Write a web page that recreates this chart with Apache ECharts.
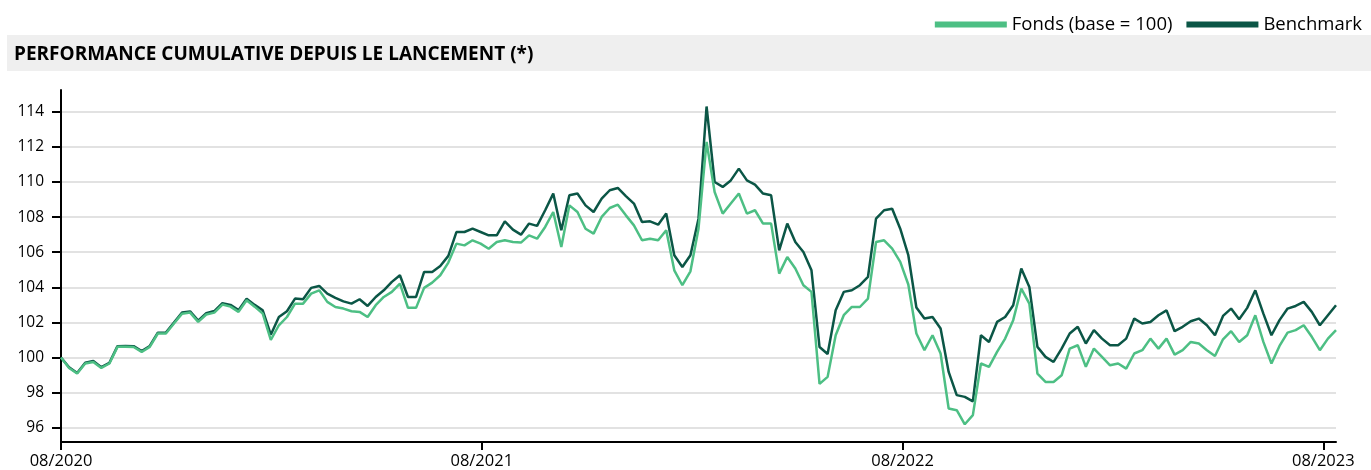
<!DOCTYPE html>
<html>
<head>
<meta charset="utf-8">
<script src="https://cdn.jsdelivr.net/npm/echarts@6/dist/echarts.min.js"></script>
<style>
html,body{margin:0;padding:0;background:#fff;}
#chart{width:1371px;height:470px;}
</style>
</head>
<body>
<div id="chart"></div>
<script>
// ---- Data (weekly readings, starting 2020-08-01) ----
var startDate = '2020-08-01';
var fonds = [
100.0, 99.41, 99.09, 99.66, 99.75, 99.41, 99.66, 100.61, 100.61, 100.6,
100.32, 100.61, 101.37, 101.37, 101.94, 102.5, 102.56, 102.03, 102.45, 102.56,
103.02, 102.9, 102.6, 103.26, 102.9, 102.5, 101.0, 101.84, 102.31, 103.07,
103.07, 103.64, 103.83, 103.17, 102.88, 102.79, 102.64, 102.6, 102.31, 102.98,
103.45, 103.74, 104.21, 102.83, 102.83, 103.97, 104.27, 104.69, 105.41, 106.49,
106.39, 106.68, 106.49, 106.2, 106.58, 106.68, 106.58, 106.55, 106.96, 106.77,
107.44, 108.29, 106.3, 108.67, 108.29, 107.34, 107.06, 108.01, 108.52, 108.71,
108.1, 107.53, 106.68, 106.77, 106.68, 107.25, 104.97, 104.12, 104.91, 107.34,
112.28, 109.43, 108.2, 108.77, 109.34, 108.2, 108.39, 107.63, 107.63, 104.78,
105.73, 105.07, 104.12, 103.74, 98.5, 98.9, 101.27, 102.41, 102.88, 102.88,
103.36, 106.58, 106.68, 106.2, 105.45, 104.16, 101.37, 100.42, 101.27, 100.23,
97.1, 97.0, 96.2, 96.72, 99.66, 99.47, 100.32, 101.08, 102.13, 103.93,
103.07, 99.09, 98.61, 98.61, 98.99, 100.51, 100.7, 99.47, 100.51, 100.04,
99.56, 99.66, 99.37, 100.23, 100.42, 101.08, 100.51, 101.08, 100.17, 100.42,
100.89, 100.8, 100.42, 100.09, 101.04, 101.5, 100.89, 101.27, 102.41, 100.89,
99.66, 100.66, 101.42, 101.56, 101.84, 101.18, 100.42, 101.08, 101.56
];
var benchmark = [
100.0, 99.45, 99.12, 99.7, 99.8, 99.45, 99.7, 100.65, 100.66, 100.65,
100.37, 100.66, 101.42, 101.43, 102.0, 102.57, 102.63, 102.1, 102.53, 102.65,
103.1, 103.0, 102.7, 103.35, 103.0, 102.69, 101.3, 102.31, 102.64, 103.36,
103.32, 103.97, 104.08, 103.64, 103.4, 103.2, 103.07, 103.32, 102.94, 103.45,
103.83, 104.31, 104.69, 103.45, 103.45, 104.88, 104.88, 105.22, 105.79, 107.15,
107.15, 107.34, 107.15, 106.96, 106.96, 107.76, 107.29, 107.0, 107.63, 107.5,
108.39, 109.34, 107.25, 109.24, 109.34, 108.67, 108.29, 109.05, 109.53, 109.66,
109.2, 108.77, 107.72, 107.76, 107.57, 108.2, 105.83, 105.16, 105.83, 107.91,
114.3, 110.0, 109.72, 110.09, 110.76, 110.09, 109.85, 109.34, 109.24, 106.11,
107.63, 106.58, 106.01, 104.97, 100.6, 100.2, 102.69, 103.74, 103.83, 104.12,
104.59, 107.91, 108.39, 108.48, 107.34, 105.83, 102.85, 102.22, 102.31, 101.65,
99.18, 97.86, 97.76, 97.5, 101.27, 100.89, 102.03, 102.31, 102.98, 105.07,
104.02, 100.61, 100.04, 99.75, 100.51, 101.37, 101.75, 100.8, 101.56, 101.08,
100.7, 100.7, 101.08, 102.22, 101.94, 102.03, 102.41, 102.69, 101.5, 101.75,
102.07, 102.22, 101.84, 101.27, 102.37, 102.79, 102.18, 102.83, 103.83, 102.5,
101.27, 102.13, 102.79, 102.94, 103.17, 102.6, 101.84, 102.41, 102.98
];
var xTickDates = ['2020-08-01', '2021-08-01', '2022-08-01', '2023-08-01'];
var yTicks = [96, 98, 100, 102, 104, 106, 108, 110, 112, 114];
var seriesNames = ['Fonds (base = 100)', 'Benchmark'];
var titleText = 'PERFORMANCE CUMULATIVE DEPUIS LE LANCEMENT (*)';

// weekly dates for the readings
var DAY = 86400000;
var t0 = Date.parse(startDate + 'T00:00:00Z');
var dates = fonds.map(function (_, i) { return t0 + i * 7 * DAY; });
function pairs(arr) { return arr.map(function (v, i) { return [dates[i], v]; }); }
var xTicks = xTickDates.map(function (d) { return Date.parse(d + 'T00:00:00Z'); });

var FONT = "'Open Sans', Lato, sans-serif";
var chart = echarts.init(document.getElementById('chart'), null, {renderer: 'canvas'});
chart.setOption({
  animation: false,
  backgroundColor: '#ffffff',
  graphic: [{
    type: 'rect', left: 7, top: 35, z: -10,
    shape: {width: 1364, height: 36},
    style: {fill: '#efefef'}
  }],
  title: {
    text: titleText, left: 9, top: 45, padding: [0, 5],
    textStyle: {fontFamily: FONT, fontWeight: 'bold', fontSize: 19, color: '#000'}
  },
  legend: {
    data: seriesNames, right: 4, top: 10, icon: 'rect',
    itemWidth: 72, itemHeight: 6, itemGap: 14,
    textStyle: {fontFamily: FONT, fontSize: 18.5, color: '#000'}
  },
  grid: {left: 61, right: 35, top: 90, bottom: 28, containLabel: false},
  xAxis: {
    type: 'value',
    min: t0, max: dates[dates.length - 1],
    axisLine: {show: true, lineStyle: {color: '#000', width: 2}},
    axisTick: {show: true, customValues: xTicks, length: 8, lineStyle: {color: '#000', width: 2}},
    axisLabel: {
      customValues: xTicks, fontFamily: FONT, fontSize: 16.5, color: '#000', margin: 11,
      formatter: function (v) {
        var d = new Date(v);
        var m = d.getUTCMonth() + 1;
        return (m < 10 ? '0' : '') + m + '/' + d.getUTCFullYear();
      }
    },
    splitLine: {show: false}
  },
  yAxis: {
    type: 'value', min: 95.19, max: 115.24,
    axisLine: {show: true, lineStyle: {color: '#000', width: 2}},
    axisTick: {show: true, customValues: yTicks, length: 9, lineStyle: {color: '#000', width: 2}},
    axisLabel: {customValues: yTicks, fontFamily: FONT, fontSize: 15.5, color: '#000', margin: 17},
    splitLine: {show: true, lineStyle: {color: '#d9d9d9', width: 1.5}}
  },
  series: [
    {
      name: seriesNames[1], type: 'line', data: pairs(benchmark), showSymbol: false,
      lineStyle: {color: '#0b5646', width: 2.5}, itemStyle: {color: '#0b5646'}, z: 2
    },
    {
      name: seriesNames[0], type: 'line', data: pairs(fonds), showSymbol: false,
      lineStyle: {color: '#4dbf84', width: 2.5}, itemStyle: {color: '#4dbf84'}, z: 3
    }
  ]
});
</script>
</body>
</html>
